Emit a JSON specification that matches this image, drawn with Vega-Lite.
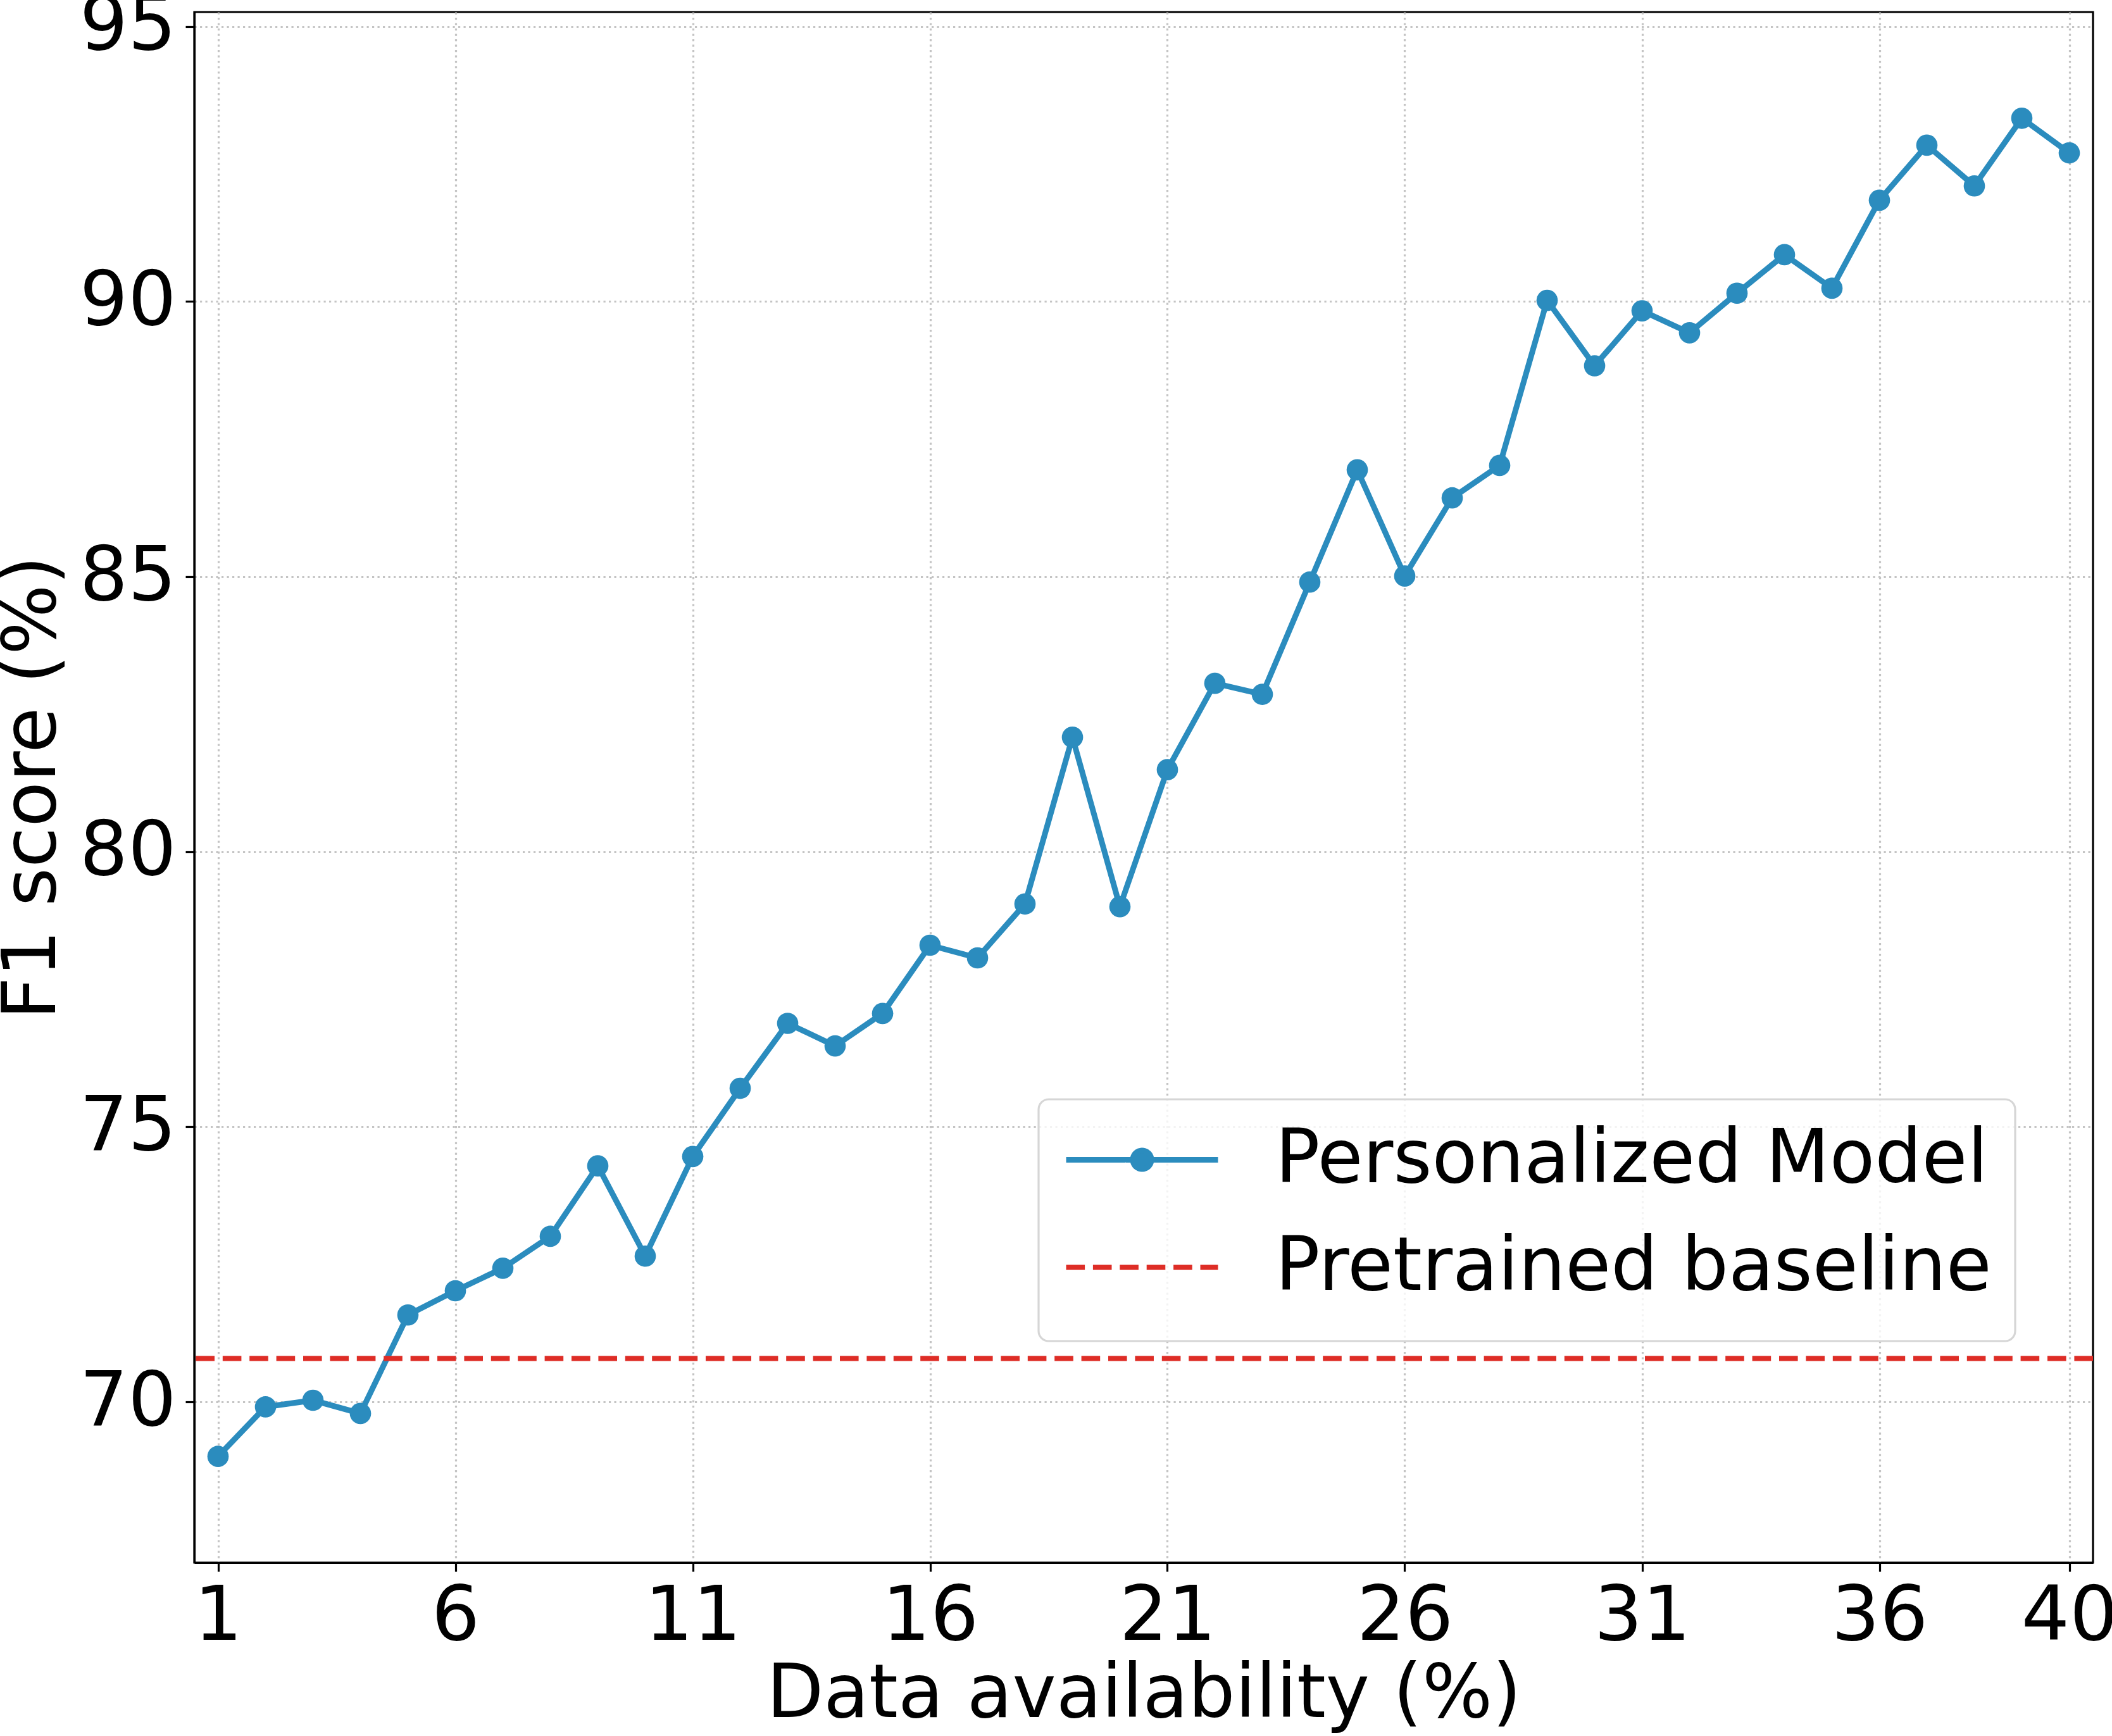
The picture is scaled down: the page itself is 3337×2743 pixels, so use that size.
{
  "$schema": "https://vega.github.io/schema/vega-lite/v6.json",
  "width": 3000,
  "height": 2450,
  "autosize": {"type": "none"},
  "padding": {"left": 307, "top": 19, "right": 30, "bottom": 274},
  "background": "white",
  "config": {
    "font": "DejaVu Sans",
    "view": {"stroke": "black", "strokeWidth": 3.2},
    "axis": {
      "labelFont": "DejaVu Sans",
      "labelFontSize": 120,
      "labelColor": "black",
      "labelLimit": 1000,
      "labelOverlap": false,
      "titleFont": "DejaVu Sans",
      "titleFontSize": 117,
      "titleFontWeight": "normal",
      "titleColor": "black",
      "titleLimit": 3000,
      "tickColor": "black",
      "tickWidth": 3.2,
      "tickSize": 14,
      "domainColor": "black",
      "domainWidth": 3.2,
      "grid": true,
      "gridColor": "#c4c4c4",
      "gridWidth": 3.2,
      "gridDash": [3.2, 5.3]
    }
  },
  "layer": [
    {
      "data": {
        "values": [
          {"pct": 1, "f1": 69.01, "series": "Personalized Model"},
          {"pct": 2, "f1": 69.91, "series": "Personalized Model"},
          {"pct": 3, "f1": 70.03, "series": "Personalized Model"},
          {"pct": 4, "f1": 69.79, "series": "Personalized Model"},
          {"pct": 5, "f1": 71.58, "series": "Personalized Model"},
          {"pct": 6, "f1": 72.02, "series": "Personalized Model"},
          {"pct": 7, "f1": 72.43, "series": "Personalized Model"},
          {"pct": 8, "f1": 73.01, "series": "Personalized Model"},
          {"pct": 9, "f1": 74.29, "series": "Personalized Model"},
          {"pct": 10, "f1": 72.65, "series": "Personalized Model"},
          {"pct": 11, "f1": 74.46, "series": "Personalized Model"},
          {"pct": 12, "f1": 75.70, "series": "Personalized Model"},
          {"pct": 13, "f1": 76.88, "series": "Personalized Model"},
          {"pct": 14, "f1": 76.47, "series": "Personalized Model"},
          {"pct": 15, "f1": 77.06, "series": "Personalized Model"},
          {"pct": 16, "f1": 78.30, "series": "Personalized Model"},
          {"pct": 17, "f1": 78.07, "series": "Personalized Model"},
          {"pct": 18, "f1": 79.05, "series": "Personalized Model"},
          {"pct": 19, "f1": 82.08, "series": "Personalized Model"},
          {"pct": 20, "f1": 79.00, "series": "Personalized Model"},
          {"pct": 21, "f1": 81.49, "series": "Personalized Model"},
          {"pct": 22, "f1": 83.06, "series": "Personalized Model"},
          {"pct": 23, "f1": 82.86, "series": "Personalized Model"},
          {"pct": 24, "f1": 84.90, "series": "Personalized Model"},
          {"pct": 25, "f1": 86.94, "series": "Personalized Model"},
          {"pct": 26, "f1": 85.01, "series": "Personalized Model"},
          {"pct": 27, "f1": 86.43, "series": "Personalized Model"},
          {"pct": 28, "f1": 87.02, "series": "Personalized Model"},
          {"pct": 29, "f1": 90.02, "series": "Personalized Model"},
          {"pct": 30, "f1": 88.83, "series": "Personalized Model"},
          {"pct": 31, "f1": 89.83, "series": "Personalized Model"},
          {"pct": 32, "f1": 89.43, "series": "Personalized Model"},
          {"pct": 33, "f1": 90.15, "series": "Personalized Model"},
          {"pct": 34, "f1": 90.85, "series": "Personalized Model"},
          {"pct": 35, "f1": 90.24, "series": "Personalized Model"},
          {"pct": 36, "f1": 91.84, "series": "Personalized Model"},
          {"pct": 37, "f1": 92.84, "series": "Personalized Model"},
          {"pct": 38, "f1": 92.10, "series": "Personalized Model"},
          {"pct": 39, "f1": 93.33, "series": "Personalized Model"},
          {"pct": 40, "f1": 92.70, "series": "Personalized Model"}
        ]
      },
      "layer": [
        {
          "mark": {"type": "line", "strokeWidth": 9, "strokeCap": "butt", "strokeJoin": "round"},
          "encoding": {
            "x": {
              "field": "pct",
              "type": "quantitative",
              "scale": {"domain": [0.5, 40.5], "nice": false, "zero": false},
              "axis": {
                "title": "Data availability (%)",
                "values": [1, 6, 11, 16, 21, 26, 31, 36, 40],
                "format": "d",
                "labelPadding": 12,
                "titlePadding": 6,
                "labelFlush": false
              }
            },
            "y": {
              "field": "f1",
              "type": "quantitative",
              "scale": {"domain": [67.08, 95.26], "nice": false, "zero": false},
              "axis": {
                "title": "F1 score (%)",
                "values": [70, 75, 80, 85, 90, 95],
                "format": "d",
                "labelPadding": 15,
                "titlePadding": 14,
                "labelFlush": false
              }
            },
            "color": {
              "field": "series",
              "type": "nominal",
              "scale": {
                "domain": ["Personalized Model", "Pretrained baseline"],
                "range": ["#2b8cbe", "#de2d26"]
              },
              "legend": {
                "title": null,
                "orient": "none",
                "legendX": 1334,
                "legendY": 1718,
                "padding": 37,
                "rowPadding": 52,
                "labelFont": "DejaVu Sans",
                "labelFontSize": 117,
                "labelColor": "black",
                "labelOffset": 212,
                "labelLimit": 3000,
                "symbolSize": 14400,
                "symbolOffset": 8,
                "fillColor": "rgba(255,255,255,0.8)",
                "strokeColor": "#d6d6d6",
                "cornerRadius": 16,
                "encode": {
                  "legend": {"update": {"strokeWidth": {"value": 3.2}}},
                  "symbols": {
                    "update": {
                      "shape": {"signal": "datum.value == 'Personalized Model' ? 'M-1,0L3,0M1.2417,0A0.2417,0.2417,0,1,1,0.7583,0A0.2417,0.2417,0,1,1,1.2417,0Z' : 'M-1,0L3,0M1,1.05'"},
                      "fill": {"signal": "datum.value == 'Personalized Model' ? '#2b8cbe' : 'transparent'"},
                      "stroke": {"signal": "datum.value == 'Personalized Model' ? '#2b8cbe' : '#de2d26'"},
                      "strokeWidth": {"signal": "datum.value == 'Personalized Model' ? 9 : 8"},
                      "strokeDash": {"signal": "datum.value == 'Personalized Model' ? [1, 0] : [29.6, 12.8]"},
                      "opacity": {"value": 1}
                    }
                  }
                }
              }
            }
          }
        },
        {
          "mark": {"type": "point", "filled": true, "size": 1134, "opacity": 1, "color": "#2b8cbe"},
          "encoding": {
            "x": {"field": "pct", "type": "quantitative"},
            "y": {"field": "f1", "type": "quantitative"}
          }
        }
      ]
    },
    {
      "data": {"values": [{"series": "Pretrained baseline", "f1": 70.79}]},
      "mark": {"type": "rule", "strokeWidth": 8, "strokeDash": [29.6, 12.8], "strokeCap": "butt"},
      "encoding": {
        "y": {"field": "f1", "type": "quantitative"},
        "color": {"field": "series", "type": "nominal"}
      }
    }
  ]
}
